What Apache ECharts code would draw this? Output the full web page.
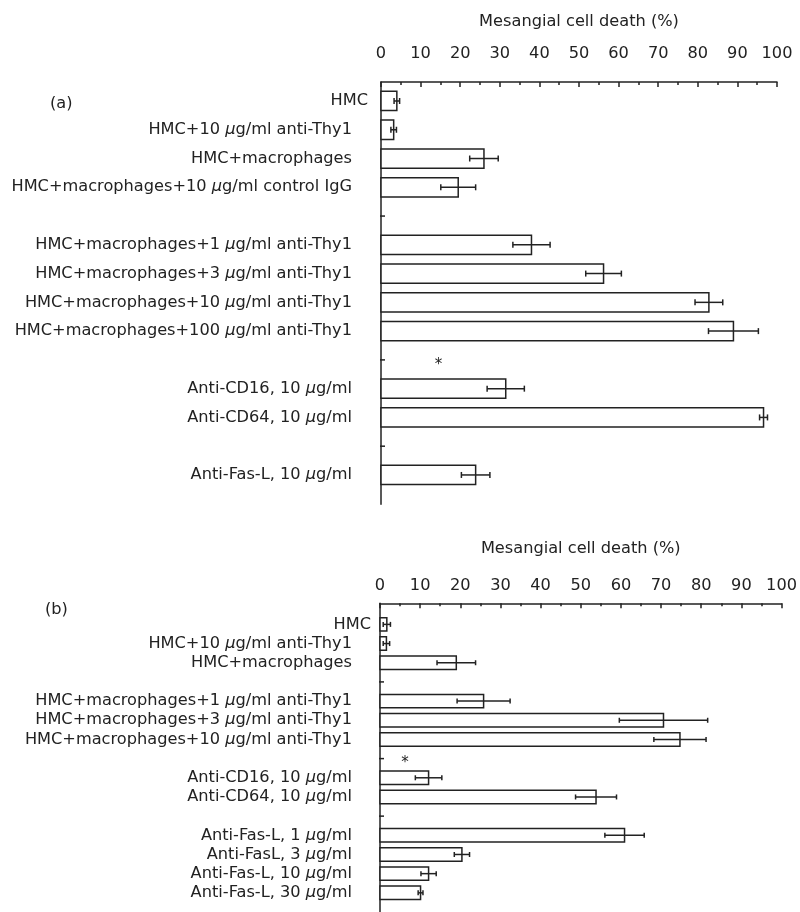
<!DOCTYPE html>
<html>
<head>
<meta charset="utf-8">
<script src="https://cdn.jsdelivr.net/npm/echarts/dist/echarts.min.js"></script>
<style>
html,body{margin:0;padding:0;background:#fff;}
#chart{width:800px;height:912px;}
</style>
</head>
<body>
<div id="chart"></div>
<script>
// ---------- Data ----------
const xTicks = [0, 10, 20, 30, 40, 50, 60, 70, 80, 90, 100];
const axisTitle = 'Mesangial cell death (%)';

// Panel (a) — '' marks a separator row (shown as a small axis tick)
const catsA = [
  'HMC',
  'HMC+10 μg/ml anti-Thy1',
  'HMC+macrophages',
  'HMC+macrophages+10 μg/ml control IgG',
  '',
  'HMC+macrophages+1 μg/ml anti-Thy1',
  'HMC+macrophages+3 μg/ml anti-Thy1',
  'HMC+macrophages+10 μg/ml anti-Thy1',
  'HMC+macrophages+100 μg/ml anti-Thy1',
  '',
  'Anti-CD16, 10 μg/ml',
  'Anti-CD64, 10 μg/ml',
  '',
  'Anti-Fas-L, 10 μg/ml'
];
const valsA = [4.0, 3.2, 26.0, 19.5, null, 38.0, 56.2, 82.8, 89.0, null, 31.5, 96.6, null, 23.9];
const errA  = [0.7, 0.7, 3.6, 4.4, null, 4.7, 4.5, 3.5, 6.3, null, 4.7, 1.0, null, 3.6];
const starA = [14.5, 9]; // [value, row]

// Panel (b)
const catsB = [
  'HMC',
  'HMC+10 μg/ml anti-Thy1',
  'HMC+macrophages',
  '',
  'HMC+macrophages+1 μg/ml anti-Thy1',
  'HMC+macrophages+3 μg/ml anti-Thy1',
  'HMC+macrophages+10 μg/ml anti-Thy1',
  '',
  'Anti-CD16, 10 μg/ml',
  'Anti-CD64, 10 μg/ml',
  '',
  'Anti-Fas-L, 1 μg/ml',
  'Anti-FasL, 3 μg/ml',
  'Anti-Fas-L, 10 μg/ml',
  'Anti-Fas-L, 30 μg/ml'
];
const valsB = [1.7, 1.6, 19.0, null, 25.8, 70.6, 74.7, null, 12.1, 53.8, null, 60.9, 20.4, 12.1, 10.1];
const errB  = [0.9, 0.8, 4.8, null, 6.6, 11.0, 6.5, null, 3.3, 5.1, null, 4.9, 1.9, 1.9, 0.6];
const starB = [6.2, 7];

const panelLabels = ['(a)', '(b)'];

// ---------- Styling ----------
const FONT = 'DejaVu Sans';
const FS = 16.2;
const INK = '#222';
const LW = 1.5;

function richLabel(s) {
  return s.replace('μ', '{mu|μ}');
}

function makeRenderer(cats, barRatio, capH, labelGap, firstGap) {
  return function (params, api) {
    const i = params.dataIndex;
    const row = api.value(2);
    const p0 = api.coord([0, row]);
    const x0 = p0[0], yc = p0[1];
    const pitch = api.size([0, 1])[1];
    const children = [];
    if (cats[i] === '') {
      children.push({
        type: 'line',
        shape: { x1: x0 - 1, y1: yc, x2: x0 + 4, y2: yc },
        style: { stroke: INK, lineWidth: LW }
      });
      return { type: 'group', children };
    }
    children.push({
      type: 'text',
      x: x0 - (i === 0 ? firstGap : labelGap),
      y: yc,
      style: {
        text: richLabel(cats[i]),
        fontFamily: FONT, fontSize: FS, fill: INK,
        align: 'right', verticalAlign: 'middle',
        rich: { mu: { fontFamily: FONT, fontSize: FS, fontStyle: 'italic', fill: INK } }
      }
    });
    const v = api.value(0), e = api.value(1);
    const p1 = api.coord([v, row]);
    const h = pitch * barRatio;
    children.push({
      type: 'rect',
      shape: { x: x0, y: yc - h / 2, width: p1[0] - x0, height: h },
      style: { fill: '#fff', stroke: INK, lineWidth: LW }
    });
    const pl = api.coord([v - e, row])[0];
    const pr = api.coord([v + e, row])[0];
    children.push({ type: 'line', shape: { x1: pl, y1: yc, x2: pr, y2: yc }, style: { stroke: INK, lineWidth: LW } });
    children.push({ type: 'line', shape: { x1: pl, y1: yc - capH / 2, x2: pl, y2: yc + capH / 2 }, style: { stroke: INK, lineWidth: LW } });
    children.push({ type: 'line', shape: { x1: pr, y1: yc - capH / 2, x2: pr, y2: yc + capH / 2 }, style: { stroke: INK, lineWidth: LW } });
    return { type: 'group', children };
  };
}

function starRenderer(params, api) {
  const p = api.coord([api.value(0), api.value(1)]);
  return {
    type: 'text', x: p[0], y: p[1] + 5,
    style: { text: '*', fontFamily: FONT, fontSize: 15, fill: INK, align: 'center', verticalAlign: 'middle' }
  };
}

function xAxisCfg(gridIndex, labelMargin, nameGap) {
  return {
    gridIndex, type: 'value', position: 'top',
    min: xTicks[0], max: xTicks[xTicks.length - 1], interval: xTicks[1] - xTicks[0],
    name: axisTitle, nameLocation: 'middle', nameGap,
    nameTextStyle: { fontFamily: FONT, fontSize: FS, color: INK },
    axisLine: { show: true, onZero: false, lineStyle: { color: INK, width: LW } },
    axisTick: { show: true, inside: true, length: 5, lineStyle: { color: INK, width: LW } },
    minorTick: { show: true, splitNumber: 2, length: 3, lineStyle: { color: INK, width: LW } },
    axisLabel: { fontFamily: FONT, fontSize: FS, color: INK, margin: labelMargin,
      formatter: v => xTicks.includes(v) ? String(v) : '' },
    splitLine: { show: false }, minorSplitLine: { show: false }
  };
}

function yAxisCfg(gridIndex, min, max) {
  return {
    gridIndex, type: 'value', inverse: true, min, max,
    axisLine: { show: true, onZero: false, lineStyle: { color: INK, width: LW } },
    axisTick: { show: false }, axisLabel: { show: false }, splitLine: { show: false }
  };
}

const rowsA = catsA.map((c, i) => [valsA[i] ?? 0, errA[i] ?? 0, i]);
const rowsB = catsB.map((c, i) => [valsB[i] ?? 0, errB[i] ?? 0, i]);

const option = {
  animation: false,
  backgroundColor: '#fff',
  grid: [
    { left: 381, width: 396, top: 82, height: 422.3 },
    { left: 380, width: 403.7, top: 603.3, height: 322.5 }
  ],
  xAxis: [xAxisCfg(0, 20, 52), xAxisCfg(1, 10, 47)],
  yAxis: [yAxisCfg(0, -0.66, 14.02), yAxisCfg(1, -1.1, 15.0)],
  graphic: [
    { type: 'text', left: 50, top: 96, style: { text: panelLabels[0], fontFamily: FONT, fontSize: FS, fill: INK } },
    { type: 'text', left: 45, top: 602, style: { text: panelLabels[1], fontFamily: FONT, fontSize: FS, fill: INK } }
  ],
  series: [
    { type: 'custom', xAxisIndex: 0, yAxisIndex: 0, encode: { x: 0, y: 2 },
      renderItem: makeRenderer(catsA, 0.67, 6, 29, 13), data: rowsA },
    { type: 'custom', xAxisIndex: 0, yAxisIndex: 0, encode: { x: 0, y: 1 },
      renderItem: starRenderer, data: [starA] },
    { type: 'custom', xAxisIndex: 1, yAxisIndex: 1, encode: { x: 0, y: 2 },
      renderItem: makeRenderer(catsB, 0.70, 5, 28, 9), data: rowsB },
    { type: 'custom', xAxisIndex: 1, yAxisIndex: 1, encode: { x: 0, y: 1 },
      renderItem: starRenderer, data: [starB] }
  ]
};

const chart = echarts.init(document.getElementById('chart'), null, { renderer: 'canvas' });
chart.setOption(option);
</script>
</body>
</html>
